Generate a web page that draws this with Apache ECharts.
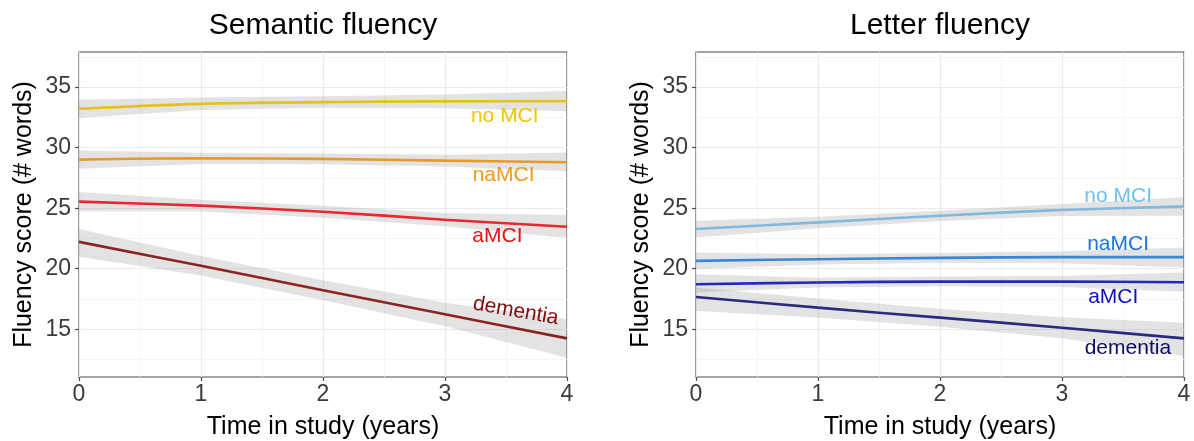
<!DOCTYPE html>
<html><head><meta charset="utf-8">
<script src="https://cdn.jsdelivr.net/npm/echarts@6/dist/echarts.min.js"></script>
<style>html,body{margin:0;padding:0;background:#fff}#c{width:1194px;height:441px}</style>
</head><body><div id="c"></div>
<script>
// ---- data ----
const years = [0, 1, 2, 3, 4];
const panelTitles = ['Semantic fluency', 'Letter fluency'];
const yMajorTicks = [15, 20, 25, 30, 35];
const yMinorTicks = [12.5, 17.5, 22.5, 27.5, 32.5, 37.5];
const groupNames = ['no MCI', 'naMCI', 'aMCI', 'dementia'];

// Semantic fluency
const semNoMciMean = [33.21, 33.62, 33.76, 33.82, 33.84];
const semNoMciLow  = [32.45, 33.10, 33.30, 33.25, 33.01];
const semNoMciHigh = [33.95, 34.15, 34.25, 34.40, 34.67];
const semNaMciMean = [29.01, 29.12, 29.07, 28.93, 28.79];
const semNaMciLow  = [28.25, 28.65, 28.62, 28.45, 28.05];
const semNaMciHigh = [29.76, 29.58, 29.52, 29.42, 29.60];
const semAMciMean  = [25.54, 25.21, 24.71, 24.05, 23.47];
const semAMciLow   = [24.75, 24.72, 24.22, 23.50, 22.53];
const semAMciHigh  = [26.33, 25.70, 25.20, 24.60, 24.43];
const semDemMean   = [22.22, 20.24, 18.23, 16.24, 14.25];
const semDemLow    = [21.00, 19.45, 17.40, 15.25, 12.65];
const semDemHigh   = [23.28, 21.05, 19.05, 17.20, 15.83];

// Letter fluency
const letNoMciMean = [23.28, 23.83, 24.38, 24.85, 25.15];
const letNoMciLow  = [22.58, 23.35, 23.95, 24.35, 24.38];
const letNoMciHigh = [23.97, 24.30, 24.80, 25.35, 25.90];
const letNaMciMean = [20.65, 20.79, 20.90, 20.96, 20.96];
const letNaMciLow  = [19.97, 20.35, 20.50, 20.45, 20.10];
const letNaMciHigh = [21.34, 21.20, 21.30, 21.45, 21.76];
const letAMciMean  = [18.72, 18.86, 18.94, 18.94, 18.89];
const letAMciLow   = [18.03, 18.45, 18.55, 18.50, 18.11];
const letAMciHigh  = [19.55, 19.25, 19.35, 19.40, 19.69];
const letDemMean   = [17.67, 16.79, 15.96, 15.13, 14.25];
const letDemLow    = [16.52, 15.98, 15.20, 14.25, 12.79];
const letDemHigh   = [18.45, 17.55, 16.70, 16.00, 15.55];

// group label anchors (data coordinates)
const semLabelX = [3.49, 3.48, 3.43, 3.58];
const semLabelY = [32.57, 27.70, 22.70, 16.50];
const letLabelX = [3.46, 3.46, 3.42, 3.54];
const letLabelY = [26.03, 22.06, 17.67, 13.45];

// ---- styling ----
const FONT = '"Liberation Sans", Arial, sans-serif';
const semLineColors = ['#E3C21E', '#E69A2A', '#E8282E', '#8B2323'];
const semTextColors = ['#F2C500', '#F39A18', '#F01010', '#850A0A'];
const letLineColors = ['#80B8DE', '#3A86D6', '#2828B8', '#2A2A80'];
const letTextColors = ['#70C0F5', '#1A74E6', '#0C0CC4', '#0C0C68'];
const semLabelRotate = [0, 0, 0, -10];
const letLabelRotate = [0, 0, 0, 0];
const yMin = 11.06, yMax = 37.9;

const semSets = [[semNoMciMean, semNoMciLow, semNoMciHigh], [semNaMciMean, semNaMciLow, semNaMciHigh],
                 [semAMciMean, semAMciLow, semAMciHigh], [semDemMean, semDemLow, semDemHigh]];
const letSets = [[letNoMciMean, letNoMciLow, letNoMciHigh], [letNaMciMean, letNaMciLow, letNaMciHigh],
                 [letAMciMean, letAMciLow, letAMciHigh], [letDemMean, letDemLow, letDemHigh]];
const panelSets = [semSets, letSets];
const panelLineColors = [semLineColors, letLineColors];

const series = [];
[0, 1].forEach(p => {
  const sets = panelSets[p];
  // confidence ribbons
  series.push({
    type: 'custom', xAxisIndex: p, yAxisIndex: p * 2, z: 2, silent: true, clip: true,
    data: sets.map((s, k) => [k]),
    renderItem: function (params, api) {
      const k = api.value(0);
      const low = sets[k][1], high = sets[k][2];
      const pts = [];
      years.forEach((x, i) => pts.push(api.coord([x, high[i]])));
      for (let i = years.length - 1; i >= 0; i--) pts.push(api.coord([years[i], low[i]]));
      return { type: 'polygon', shape: { points: pts }, style: { fill: 'rgba(150,150,150,0.27)' } };
    }
  });
  // mean lines
  sets.forEach((s, k) => {
    series.push({
      type: 'line', xAxisIndex: p, yAxisIndex: p * 2, z: 3, silent: true,
      smooth: 0.35, symbol: 'none',
      data: years.map((x, i) => [x, s[0][i]]),
      lineStyle: { color: panelLineColors[p][k], width: 2.6 }
    });
  });
});

function addLabels(p, xs, ys, colors, rots) {
  groupNames.forEach((name, k) => {
    series.push({
      type: 'scatter', xAxisIndex: p, yAxisIndex: p * 2, z: 5, silent: true,
      symbolSize: 0, itemStyle: { color: colors[k], opacity: 0 },
      data: [{ value: [xs[k], ys[k]], name: name }],
      label: { show: true, position: 'inside', formatter: '{b}', color: colors[k],
               textBorderWidth: 0, textBorderColor: 'transparent', opacity: 1,
               fontSize: 21, fontFamily: FONT, rotate: rots[k] }
    });
  });
}
addLabels(0, semLabelX, semLabelY, semTextColors, semLabelRotate);
addLabels(1, letLabelX, letLabelY, letTextColors, letLabelRotate);

const gridLefts = [79, 696];
const grids = gridLefts.map(l => ({
  left: l, top: 52, width: 488, height: 325,
  show: true, borderColor: '#4d4d4d', borderWidth: 1.2, backgroundColor: '#fff',
  containLabel: false, outerBoundsMode: 'none'
}));

const xAxes = [0, 1].map(p => ({
  type: 'value', gridIndex: p, min: 0, max: 4, interval: 1,
  name: 'Time in study (years)', nameLocation: 'middle', nameGap: 38,
  nameTextStyle: { fontSize: 25, fontFamily: FONT, color: '#000' },
  axisLine: { show: false },
  axisTick: { show: true, length: 4, lineStyle: { color: '#4d4d4d', width: 1.2 } },
  axisLabel: { fontSize: 23, fontFamily: FONT, color: '#3a3a3a', margin: 6 },
  splitLine: { show: true, lineStyle: { color: '#EBEBEB', width: 1.2 } },
  minorTick: { show: false, splitNumber: 2 },
  minorSplitLine: { show: true, lineStyle: { color: '#F3F3F3', width: 0.8 } }
}));

const yAxes = [];
[0, 1].forEach(p => {
  yAxes.push({
    type: 'value', gridIndex: p, min: yMin, max: yMax,
    name: 'Fluency score (# words)', nameLocation: 'middle', nameGap: 42,
    nameTextStyle: { fontSize: 25, fontFamily: FONT, color: '#000' },
    axisLine: { show: false },
    axisTick: { show: true, length: 4, customValues: yMajorTicks, lineStyle: { color: '#4d4d4d', width: 1.2 } },
    axisLabel: { fontSize: 23, fontFamily: FONT, color: '#3a3a3a', margin: 8, customValues: yMajorTicks },
    splitLine: { show: true, lineStyle: { color: '#EBEBEB', width: 1.2 } }
  });
  yAxes.push({
    type: 'value', gridIndex: p, min: yMin, max: yMax,
    axisLine: { show: false },
    axisTick: { show: false, customValues: yMinorTicks },
    axisLabel: { show: false, customValues: yMinorTicks },
    splitLine: { show: true, lineStyle: { color: '#F3F3F3', width: 0.8 } }
  });
});

const chart = echarts.init(document.getElementById('c'), null, { renderer: 'canvas' });
chart.setOption({
  animation: false,
  backgroundColor: '#fff',
  grid: grids,
  xAxis: xAxes,
  yAxis: yAxes,
  graphic: panelTitles.map((t, p) => ({
    type: 'text', x: gridLefts[p] + 244, y: 26, silent: true,
    style: { text: t, fontSize: 30, fontFamily: FONT, fill: '#000',
             textAlign: 'center', textVerticalAlign: 'middle', align: 'center', verticalAlign: 'middle' }
  })),
  series: series
});
</script></body></html>
